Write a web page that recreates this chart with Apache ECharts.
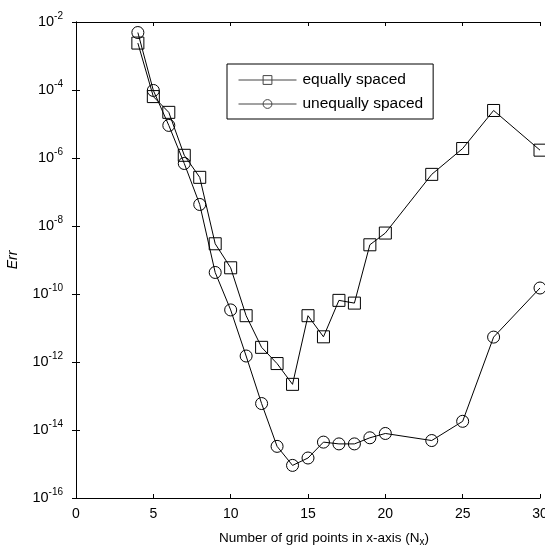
<!DOCTYPE html>
<html>
<head>
<meta charset="utf-8">
<script src="https://cdn.jsdelivr.net/npm/echarts@6/dist/echarts.min.js"></script>
<style>
  html, body { margin: 0; padding: 0; background: #fff; }
  #chart { width: 545px; height: 548px; }
</style>
</head>
<body>
<div id="chart"></div>
<script>
// grid sizes (N_x)
const nx = [4, 5, 6, 7, 8, 9, 10, 11, 12, 13, 14, 15, 16, 17, 18, 19, 20, 23, 25, 27, 30];
// error, equally spaced grid
const errEqual = [2.4e-3, 6.4e-5, 2.2e-5, 1.2e-6, 2.7e-7, 3e-9, 5.9e-10, 2.3e-11, 2.7e-12, 9e-13,
  2.2e-13, 2.3e-11, 5.5e-12, 6.5e-11, 5.4e-11, 2.8e-9, 6.2e-9, 3.3e-7, 1.9e-6, 2.5e-5, 1.7e-6];
// error, unequally spaced grid
const errUnequal = [4.9e-3, 9.7e-5, 9.1e-6, 6.9e-7, 4.3e-8, 4.3e-10, 3.4e-11, 1.5e-12, 6e-14, 3.3e-15,
  9.1e-16, 1.5e-15, 4.4e-15, 3.9e-15, 3.9e-15, 5.9e-15, 7.9e-15, 4.9e-15, 1.8e-14, 5.4e-12, 1.5e-10];

const font = 'Liberation Sans, Arial, sans-serif';

const pow10 = (v) => {
  const e = Math.round(Math.log10(v));
  return '{b|10}{e|' + e + '}';
};

const myChart = echarts.init(document.getElementById('chart'));

const yBase = {
  type: 'log',
  logBase: 10,
  min: 1e-16,
  max: 1e-2,
  interval: 2,
  splitLine: { show: false },
  axisLine: { show: true, lineStyle: { color: '#000', width: 1 } },
  axisTick: { show: true, inside: true, length: 4, lineStyle: { color: '#000' } }
};
const xBase = {
  type: 'value',
  min: 0,
  max: 30,
  interval: 5,
  splitLine: { show: false },
  axisLine: { show: true, onZero: false, lineStyle: { color: '#000', width: 1 } },
  axisTick: { show: true, inside: true, length: 4, lineStyle: { color: '#000' } }
};

const option = {
  animation: false,
  backgroundColor: '#fff',
  grid: { left: 76, right: 5, top: 22, bottom: 50, containLabel: false, outerBoundsMode: 'none' },
  xAxis: [
    Object.assign({}, xBase, {
      position: 'bottom',
      name: 'Number of grid points in x-axis (N{s|x})',
      nameLocation: 'middle',
      nameGap: 31,
      nameTextStyle: {
        color: '#000', fontSize: 13.5, fontFamily: font, padding: [0, 0, 0, 32],
        rich: { s: { fontSize: 10, fontFamily: font, color: '#000', padding: [8, 0, 0, 0] } }
      },
      axisLabel: { color: '#000', fontSize: 14, fontFamily: font, margin: 9 }
    }),
    Object.assign({}, xBase, { position: 'top', axisLabel: { show: false } })
  ],
  yAxis: [
    Object.assign({}, yBase, {
      position: 'left',
      name: 'Err',
      nameLocation: 'middle',
      nameGap: 56,
      nameRotate: 90,
      nameTextStyle: { color: '#000', fontSize: 14, fontStyle: 'italic', fontFamily: font },
      axisLabel: {
        margin: 13,
        formatter: pow10,
        rich: {
          b: { fontSize: 14.5, color: '#000', fontFamily: font },
          e: { fontSize: 10, color: '#000', fontFamily: font, verticalAlign: 'top', padding: [0, 0, 12, 0] }
        }
      }
    }),
    Object.assign({}, yBase, { position: 'right', axisLabel: { show: false } })
  ],
  legend: {
    orient: 'vertical',
    left: 227,
    top: 64,
    padding: [8, 10, 7, 11],
    itemGap: 8,
    itemWidth: 58,
    itemHeight: 11,
    borderColor: '#000',
    borderWidth: 1,
    backgroundColor: '#fff',
    lineStyle: { width: 1, color: '#444' },
    itemStyle: { borderColor: '#444', borderWidth: 1 },
    textStyle: { color: '#000', fontSize: 15.5, fontFamily: font, padding: [0, 8, 0, 1] },
    data: ['equally spaced', 'unequally spaced']
  },
  series: [
    {
      name: 'equally spaced',
      type: 'line',
      data: nx.map((x, i) => [x, errEqual[i]]),
      symbol: 'rect',
      symbolSize: 12,
      lineStyle: { color: '#000', width: 1 },
      itemStyle: { color: 'rgba(0,0,0,0)', borderColor: '#000', borderWidth: 1 }
    },
    {
      name: 'unequally spaced',
      type: 'line',
      data: nx.map((x, i) => [x, errUnequal[i]]),
      symbol: 'circle',
      symbolSize: 12,
      lineStyle: { color: '#000', width: 1 },
      itemStyle: { color: 'rgba(0,0,0,0)', borderColor: '#000', borderWidth: 1 }
    }
  ]
};

myChart.setOption(option);
</script>
</body>
</html>
